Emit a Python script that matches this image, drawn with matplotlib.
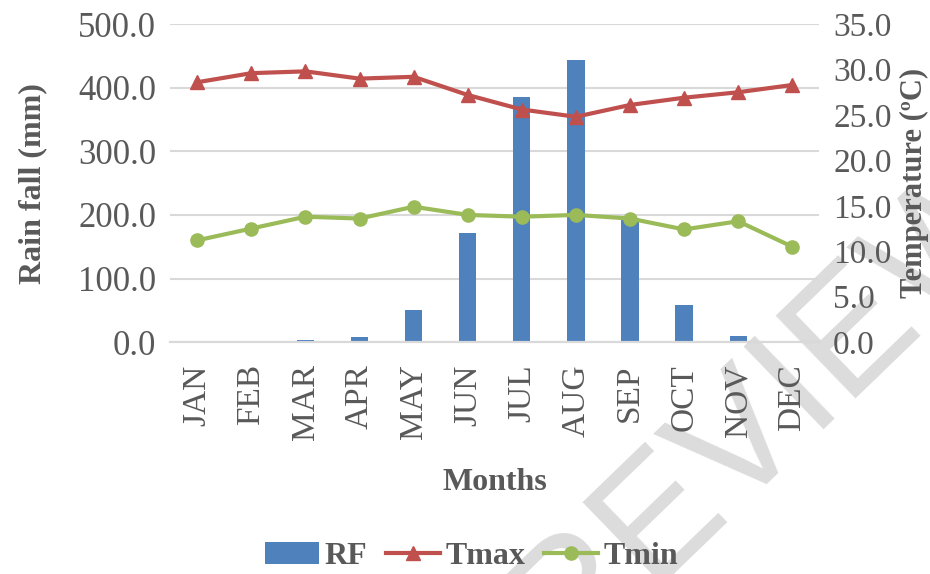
import numpy as np
import matplotlib
matplotlib.use("Agg")
import matplotlib.pyplot as plt

months = ["JAN", "FEB", "MAR", "APR", "MAY", "JUN",
          "JUL", "AUG", "SEP", "OCT", "NOV", "DEC"]
rain_fall = [0.5, 2.0, 3.0, 8.0, 51.0, 172.0, 385.0, 443.0, 195.0, 58.0, 10.0, 2.0]
t_max = [28.6, 29.6, 29.8, 29.0, 29.2, 27.2, 25.6, 24.8, 26.1, 26.9, 27.5, 28.3]
t_min = [11.2, 12.5, 13.8, 13.6, 14.9, 14.0, 13.8, 14.0, 13.6, 12.4, 13.3, 10.5]

rain_ticks = [0, 100, 200, 300, 400, 500]
temp_ticks = [0, 5, 10, 15, 20, 25, 30, 35]

grey = "#595959"
plt.rcParams["font.family"] = ["Liberation Serif", "DejaVu Serif"]

fig = plt.figure(figsize=(9.3, 5.74), dpi=100)
ax = fig.add_axes([0.183, 0.404, 0.698, 0.554])
ax.set_facecolor("none")
ax2 = ax.twinx()

x = np.arange(len(months))
bars = ax.bar(x, rain_fall, width=0.32, color="#4F81BD", zorder=2, label="RF")
l1, = ax2.plot(x, t_max, color="#C0504D", lw=3, marker="^", ms=10.5, label="Tmax")
l2, = ax2.plot(x, t_min, color="#9BBB59", lw=3, marker="o", ms=9.5, label="Tmin")

ax.set_xlim(-0.5, len(months) - 0.5)
ax.set_ylim(0, 500)
ax2.set_ylim(0, 35)
ax.set_yticks(rain_ticks)
ax.set_yticklabels([f"{v:.1f}" for v in rain_ticks])
ax2.set_yticks(temp_ticks)
ax2.set_yticklabels([f"{v:.1f}" for v in temp_ticks])
ax.set_xticks(x)
ax.set_xticklabels(months, rotation=90)

ax.grid(axis="y", color="#d9d9d9", lw=1.5, zorder=0)
ax.set_axisbelow(True)
for a in (ax, ax2):
    for s in ("top", "left", "right"):
        a.spines[s].set_visible(False)
    a.spines["bottom"].set_color("#d9d9d9")
    a.spines["bottom"].set_linewidth(1.5)
ax.tick_params(axis="y", length=0, pad=10, labelsize=25, labelcolor=grey)
ax2.tick_params(axis="y", length=0, pad=10, labelsize=24, labelcolor=grey)
ax.tick_params(axis="x", length=0, pad=16, labelsize=24, labelcolor=grey)

ax.set_xlabel("Months", fontsize=23, fontweight="bold", color=grey, labelpad=20)
ax.set_ylabel("Rain fall (mm)", fontsize=23, fontweight="bold", color=grey, labelpad=22)
ax2.set_ylabel("Temperature (ºC)", fontsize=22, fontweight="bold", color=grey, labelpad=6)

leg = fig.legend(handles=[bars, l1, l2], loc="lower center", bbox_to_anchor=(0.507, -0.045),
                 ncol=3, frameon=False, handlelength=1.7, columnspacing=0.6,
                 handletextpad=0.15, prop={"size": 23, "weight": "bold"})
for t in leg.get_texts():
    t.set_color(grey)

# preview watermark
fig.text(0.785, 0.22, "PREVIEW", family="Liberation Sans", fontsize=120, color="#dcdcdc",
         rotation=44, ha="center", va="center", zorder=-1)

fig.savefig("out.png", dpi=100)
